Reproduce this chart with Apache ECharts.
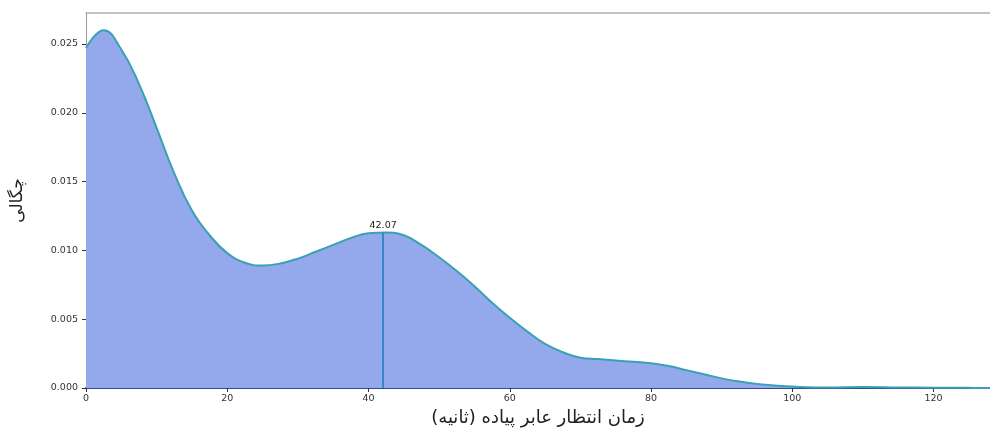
<!DOCTYPE html>
<html>
<head>
<meta charset="utf-8">
<script src="https://cdn.jsdelivr.net/npm/echarts@6/dist/echarts.min.js"></script>
<style>
html,body{margin:0;padding:0;background:#fff;}
#chart{width:990px;height:428px;}
</style>
</head>
<body>
<div id="chart"></div>
<script>
// Wait time (seconds) sample points of the KDE curve
const waitTimes = [0, 2.5, 5, 7.5, 10, 12.5, 15, 17.5, 20, 22.5, 25, 27.5, 30, 32.5, 35, 37.5, 40, 42.5, 45, 47.5, 50, 52.5, 55, 57.5, 60, 62.5, 65, 67.5, 70, 72.5, 75, 77.5, 80, 82.5, 85, 87.5, 90, 92.5, 95, 97.5, 100, 105, 110, 115, 120, 125, 128];
// Density values
const densities = [0.0247, 0.0260, 0.0246, 0.0221, 0.0189, 0.0156, 0.0129, 0.0111, 0.0098, 0.0091, 0.0089, 0.00905, 0.0094, 0.0099, 0.0104, 0.0109, 0.01125, 0.0113, 0.0111, 0.0104, 0.0095, 0.0085, 0.0074, 0.0062, 0.0051, 0.0041, 0.0032, 0.0026, 0.0022, 0.0021, 0.0020, 0.0019, 0.0018, 0.0016, 0.0013, 0.0010, 0.0007, 0.00047, 0.0003, 0.00018, 0.0001, 0.00004, 0.00007, 0.00004, 0.00002, 0.00001, 0.0];
// Marked value
const markX = 42.07;
const markY = 0.0113;
const markLabel = '42.07';
// Axis texts
const xTitle = 'زمان انتظار عابر پیاده (ثانیه)';
const yTitle = 'چگالی';

const seriesData = waitTimes.map((x, i) => [x, densities[i]]);

const chart = echarts.init(document.getElementById('chart'));
chart.setOption({
  backgroundColor: '#fff',
  animation: false,
  textStyle: { fontFamily: 'DejaVu Sans' },
  grid: { left: 86, right: 0, top: 13, bottom: 40, show: false, containLabel: false, outerBoundsMode: 'none' },
  xAxis: [{
    type: 'value', min: 0, max: 128, interval: 20,
    name: xTitle, nameLocation: 'middle', nameGap: 19,
    nameTextStyle: { fontSize: 18, color: '#222', fontFamily: 'DejaVu Sans' },
    axisLine: { show: true, lineStyle: { color: '#2b4b9b', width: 2 } },
    axisTick: { show: true, length: 4, lineStyle: { color: '#333' } },
    axisLabel: { fontSize: 9.5, color: '#333', margin: 6, showMaxLabel: false },
    splitLine: { show: false }
  }, {
    type: 'value', position: 'top', min: 0, max: 128,
    axisLine: { show: true, lineStyle: { color: '#b0b0b0', width: 1.5 } },
    axisTick: { show: false }, axisLabel: { show: false }, splitLine: { show: false }
  }],
  yAxis: {
    type: 'value', min: 0, max: 0.02725, interval: 0.005,
    name: yTitle, nameLocation: 'middle', nameGap: 60, nameRotate: 90,
    nameTextStyle: { fontSize: 17, color: '#222', fontFamily: 'DejaVu Sans' },
    axisLine: { show: true, lineStyle: { color: '#999' } },
    axisTick: { show: true, length: 4, lineStyle: { color: '#333' } },
    axisLabel: { fontSize: 9.5, color: '#333', margin: 8, showMaxLabel: false,
      formatter: v => v.toFixed(3) },
    splitLine: { show: false }
  },
  series: [{
    type: 'line',
    data: seriesData,
    smooth: 0.45,
    symbol: 'none',
    lineStyle: { color: '#3aa0b4', width: 2 },
    areaStyle: { color: '#94a8ec', opacity: 1 },
    markLine: {
      silent: true,
      symbol: ['none', 'none'],
      lineStyle: { color: '#3a86c8', width: 2, type: 'solid' },
      label: { show: true, position: 'end', formatter: markLabel, fontSize: 9.5, color: '#222', distance: 2 },
      data: [[{ coord: [markX, 0] }, { coord: [markX, markY] }]]
    },
    z: 2
  }]
});
</script>
</body>
</html>
